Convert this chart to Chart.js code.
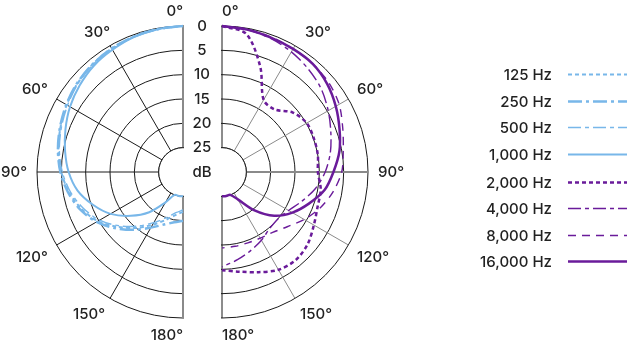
<!DOCTYPE html>
<html>
<head>
<meta charset="utf-8">
<script src="https://cdn.jsdelivr.net/npm/chart.js@4.4.1/dist/chart.umd.min.js"></script>
<style>
  html, body { margin: 0; padding: 0; background: #fff; }
  #wrap { position: relative; width: 627px; height: 343px; overflow: hidden; font-family: Inter, "Noto Sans", sans-serif; }
  #wrap canvas { position: absolute; left: 0; top: 0; }
  #legend { position: absolute; left: 440px; top: 0; width: 187px; }
  .row { position: absolute; left: 0; width: 187px; height: 20px; }
  .row span { position: absolute; right: 75px; top: 0; line-height: 20px; font-size: 15px; font-weight: 500; color: #222; white-space: nowrap; }
  .row svg { position: absolute; left: 128px; top: 0; }
</style>
</head>
<body>
<div id="wrap">
  <canvas id="leftChart" width="627" height="343"></canvas>
  <canvas id="rightChart" width="627" height="343"></canvas>
  <div id="legend"></div>
</div>
<script>
// ---------- data ----------
const angles = [0, 10, 20, 30, 40, 50, 60, 70, 80, 90, 100, 110, 120, 130, 140, 150, 160, 170, 180];
const angleTicks = [0, 30, 60, 90, 120, 150, 180];
const dbTicks = [0, 5, 10, 15, 20, 25];
const dbUnit = 'dB';

const lowLabels = ['125 Hz', '250 Hz', '500 Hz', '1,000 Hz'];
const highLabels = ['2,000 Hz', '4,000 Hz', '8,000 Hz', '16,000 Hz'];

// attenuation in dB (0 = outer ring) at each angle
const att125   = [0, 0.2, 0.4, 0.7, 1.1, 1.7, 2.4, 3.2, 4.0, 5.0, 6.2, 7.8, 9.8, 12.5, 15.0, 17.5, 19.5, 21.0, 21.8];
const att250   = [0, 0.2, 0.4, 0.7, 1.1, 1.6, 2.3, 3.1, 3.9, 4.8, 6.0, 7.5, 9.5, 12.0, 14.5, 16.8, 18.5, 19.5, 20.0];
const att500   = [0, 0.2, 0.5, 0.8, 1.2, 1.8, 2.6, 3.4, 4.2, 5.2, 6.5, 8.2, 10.2, 12.8, 15.5, 18.0, 20.0, 21.5, 22.2];
const att1000  = [0, 0.2, 0.5, 1.0, 1.5, 2.3, 3.2, 4.3, 5.4, 6.5, 8.0, 10.3, 12.8, 16.0, 19.2, 22.8, 25.0, 25.0, 25.0];

const att2000  = [0, 1.2, 7.0, 12.9, 13.2, 11.0, 9.9, 9.9, 10.0, 10.3, 9.4, 9.1, 8.2, 7.0, 6.4, 6.8, 8.1, 9.2, 9.8];
const att4000  = [0, 0.3, 0.8, 1.5, 2.4, 3.4, 4.8, 6.2, 7.4, 8.8, 10.5, 12.5, 14.2, 15.0, 14.8, 13.8, 12.8, 11.7, 10.5];
const att8000  = [0, 0.2, 0.5, 0.8, 1.0, 1.4, 2.2, 3.6, 4.7, 5.4, 6.8, 8.5, 10.5, 12.5, 13.8, 14.3, 14.5, 14.5, 14.4];
const att16000 = [0, 0.3, 0.6, 0.8, 1.0, 1.8, 3.0, 4.3, 5.5, 7.1, 8.6, 11.0, 13.3, 16.0, 19.8, 23.5, 25.0, 25.0, 25.0];

// ---------- styles ----------
const BLUE = '#78b7e9';
const PURPLE = '#6a1b9a';
const GRID = '#1a1a1a';
const AXIS_GRAY = '#8a8a8a';
const TEXT = '#222';
const FONT = '500 15px Inter, "Noto Sans", sans-serif';

const lowStyles = [
  { color: BLUE, width: 2,   dash: [4, 3] },
  { color: BLUE, width: 2.5, dash: [14, 4, 3, 4] },
  { color: BLUE, width: 1.4, dash: [13, 4, 4, 4] },
  { color: BLUE, width: 2,   dash: [] }
];
const highStyles = [
  { color: PURPLE, width: 2.5, dash: [4, 3] },
  { color: PURPLE, width: 1.4, dash: [13, 4, 4, 4] },
  { color: PURPLE, width: 1.4, dash: [8, 6] },
  { color: PURPLE, width: 2.5, dash: [] }
];

// ---------- helpers ----------
const STEP = 10;
const N = 360 / STEP;
const radarLabels = Array.from({ length: N }, (_, i) => i * STEP);

function toRadar(att, side) {
  const arr = new Array(N).fill(null);
  angles.forEach((a, i) => {
    const deg = side === 'left' ? (360 - a) % 360 : a;
    arr[deg / STEP] = -att[i];
  });
  return arr;
}
function idxFor(a, side) {
  return (side === 'left' ? (360 - a) % 360 : a) / STEP;
}

function makeDatasets(series, labels, styles, side) {
  return series.map((s, i) => ({
    label: labels[i],
    data: toRadar(s, side),
    borderColor: styles[i].color,
    borderWidth: styles[i].width,
    borderDash: styles[i].dash,
    backgroundColor: 'transparent',
    fill: false,
    pointRadius: 0,
    pointHoverRadius: 0,
    tension: 0.3,
    spanGaps: false,
    clip: false
  }));
}

function halfPlugin(side) {
  return {
    id: 'half_' + side,
    beforeDraw(chart) {
      const s = chart.scales.r, ctx = chart.ctx;
      ctx.save();
      ctx.beginPath();
      if (side === 'left') ctx.rect(0, 0, s.xCenter + 1, chart.height);
      else ctx.rect(s.xCenter - 1, 0, chart.width, chart.height);
      ctx.clip();
    },
    beforeDatasetsDraw(chart) {
      const s = chart.scales.r, ctx = chart.ctx;
      const rIn = s.getDistanceFromCenterForValue(-dbTicks[dbTicks.length - 1]);
      ctx.save();
      ctx.beginPath();
      ctx.arc(s.xCenter, s.yCenter, rIn, 0, Math.PI * 2);
      ctx.fillStyle = '#fff';
      ctx.fill();
      ctx.lineWidth = 1;
      ctx.strokeStyle = GRID;
      ctx.stroke();
      ctx.restore();
    },
    afterDatasetsDraw(chart) {
      chart.ctx.restore();
    },
    afterDraw(chart) {
      const s = chart.scales.r, ctx = chart.ctx;
      ctx.save();
      ctx.font = FONT;
      ctx.fillStyle = TEXT;
      angleTicks.forEach(a => {
        const p = s.getPointPosition(idxFor(a, side), s.drawingArea + 10);
        let x = p.x, y = p.y;
        ctx.textAlign = side === 'left' ? 'right' : 'left';
        if (a < 90) ctx.textBaseline = 'alphabetic';
        else if (a === 90) ctx.textBaseline = 'middle';
        else ctx.textBaseline = 'top';
        if (a === 30) x += 5;
        ctx.fillText(a + '°', x, y);
      });
      if (side === 'right') {
        ctx.textAlign = 'center';
        ctx.textBaseline = 'middle';
        const cx = s.xCenter - 20;
        dbTicks.forEach(v => {
          ctx.fillText(String(v), cx, s.yCenter - s.getDistanceFromCenterForValue(-v));
        });
        ctx.fillText(dbUnit, cx, s.yCenter);
      }
      ctx.restore();
    }
  };
}

function makeChart(id, datasets, side, padding) {
  const verticalGray = side === 'left';
  return new Chart(document.getElementById(id), {
    type: 'radar',
    data: { labels: radarLabels, datasets },
    options: {
      responsive: false,
      animation: false,
      events: [],
      layout: { padding },
      plugins: { legend: { display: false }, tooltip: { enabled: false } },
      scales: {
        r: {
          min: -30,
          max: 0,
          ticks: { stepSize: 5, display: false },
          pointLabels: { display: false },
          grid: { circular: true, color: GRID, lineWidth: 1 },
          angleLines: {
            color: ctx => {
              const d = ctx.index * STEP;
              const vert = d % 180 === 0;
              return (vert === verticalGray) ? AXIS_GRAY : GRID;
            },
            lineWidth: ctx => {
              const d = ctx.index * STEP;
              if (d % 30 !== 0) return 0;
              const vert = d % 180 === 0;
              const horiz = d % 180 === 90;
              if (verticalGray && vert) return 2;
              if (!verticalGray && horiz) return 2;
              return 1;
            }
          }
        }
      }
    },
    plugins: [halfPlugin(side)]
  });
}

makeChart('leftChart',
  makeDatasets([att125, att250, att500, att1000], lowLabels, lowStyles, 'left'),
  'left', { left: 37, top: 26, right: 298, bottom: 25 });
makeChart('rightChart',
  makeDatasets([att2000, att4000, att8000, att16000], highLabels, highStyles, 'right'),
  'right', { left: 76, top: 26, right: 259, bottom: 25 });

// ---------- legend ----------
const legend = document.getElementById('legend');
const allLabels = lowLabels.concat(highLabels);
const allStyles = lowStyles.concat(highStyles);
const rowTops = [65, 92, 118, 145, 173, 199, 226, 252];
allLabels.forEach((lab, i) => {
  const st = allStyles[i];
  const row = document.createElement('div');
  row.className = 'row';
  row.style.top = rowTops[i] + 'px';
  const sp = document.createElement('span');
  sp.textContent = lab;
  row.appendChild(sp);
  const svgNS = 'http://www.w3.org/2000/svg';
  const svg = document.createElementNS(svgNS, 'svg');
  svg.setAttribute('width', '60');
  svg.setAttribute('height', '20');
  const ln = document.createElementNS(svgNS, 'line');
  ln.setAttribute('x1', '0'); ln.setAttribute('x2', '60');
  ln.setAttribute('y1', '9.5'); ln.setAttribute('y2', '9.5');
  ln.setAttribute('stroke', st.color);
  ln.setAttribute('stroke-width', st.width);
  if (st.dash.length) ln.setAttribute('stroke-dasharray', st.dash.join(' '));
  svg.appendChild(ln);
  row.appendChild(svg);
  legend.appendChild(row);
});
</script>
</body>
</html>
